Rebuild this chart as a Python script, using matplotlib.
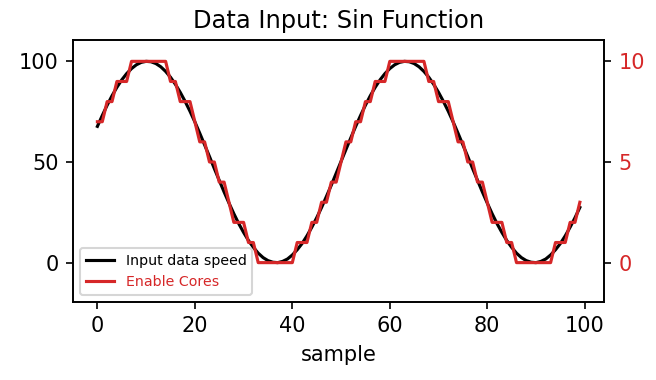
import matplotlib
matplotlib.use("Agg")
import matplotlib.pyplot as plt

samples = list(range(100))

input_speed_cycle = [
    67.7, 73.1, 78.2, 82.9, 87.1, 90.8, 93.9, 96.4, 98.3, 99.5,
    100.0, 99.8, 98.9, 97.3, 95.0, 92.1, 88.6, 84.6, 80.1, 75.2,
    69.9, 64.3, 58.5, 52.7, 46.7, 40.9, 35.1, 29.6, 24.3, 19.4,
    15.0, 11.0, 7.6, 4.7, 2.5, 1.0, 0.2, 0.0, 0.6, 1.8,
    3.8, 6.4, 9.5, 13.3, 17.6, 22.3, 27.4, 32.9, 38.5, 44.4,
    50.3, 56.2, 62.0,
]
input_speed = input_speed_cycle + input_speed_cycle[:47]

enable_cores_cycle = [
    7, 7, 8, 8, 9, 9, 9, 10, 10, 10,
    10, 10, 10, 10, 10, 9, 9, 8, 8, 8,
    7, 6, 6, 5, 5, 4, 4, 3, 2, 2,
    2, 1, 1, 0, 0, 0, 0, 0, 0, 0,
    0, 1, 1, 1, 2, 2, 3, 3, 4, 4,
    5, 6, 6,
]
enable_cores = enable_cores_cycle + enable_cores_cycle[:47]

RED = "#d62728"

fig = plt.figure(figsize=(656 / 150, 380 / 150), dpi=150)
ax = fig.add_axes([0.1117, 0.2061, 0.9207 - 0.1117, 0.8947 - 0.2061])
ax2 = ax.twinx()

l1, = ax.plot(samples, input_speed, color="black", label="Input data speed")
l2, = ax2.plot(samples, enable_cores, color=RED, label="Enable Cores")

ax.set_ylim(-19.4, 110.6)
ax2.set_ylim(-1.94, 11.06)
ax.set_yticks([0, 50, 100])
ax2.set_yticks([0, 5, 10])
ax2.tick_params(axis="y", labelcolor=RED)

ax.set_xlabel("sample")
ax.set_title("Data Input: Sin Function", fontsize=11.6)

leg = ax2.legend([l1, l2], ["Input data speed", "Enable Cores"], loc="lower left", fontsize=6.8)
leg.get_texts()[1].set_color(RED)

fig.savefig("out.png", dpi=150)
